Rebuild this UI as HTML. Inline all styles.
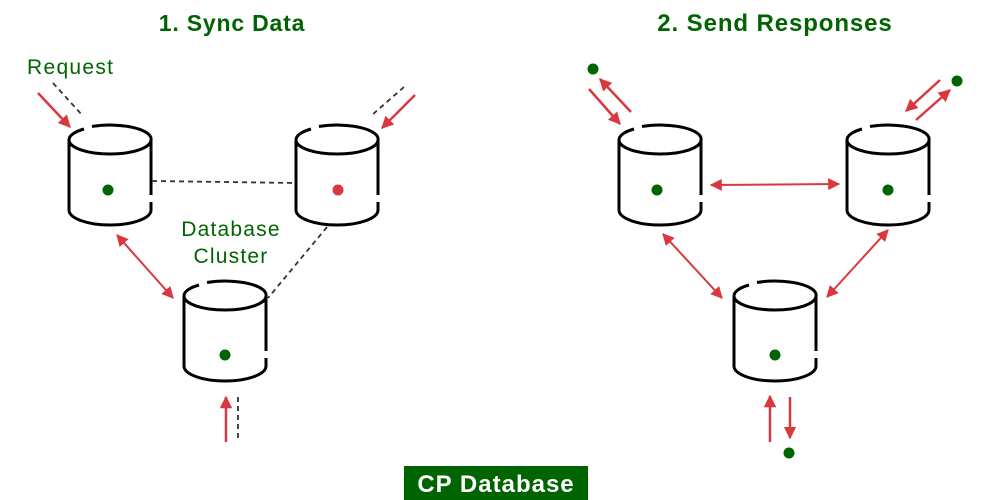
<!DOCTYPE html>
<html><head><meta charset="utf-8"><style>
html,body{margin:0;padding:0;background:#fff;width:1000px;height:500px;overflow:hidden}
svg{display:block}
text{font-family:"Liberation Sans",sans-serif}
</style></head><body>
<svg width="1000" height="500" viewBox="0 0 1000 500" xmlns="http://www.w3.org/2000/svg">
<defs>
<marker id="ah" viewBox="0 0 10 10" refX="9" refY="5" markerWidth="5" markerHeight="5" orient="auto-start-reverse">
<path d="M0,0 L10,5 L0,10 z" fill="#d9393e"/></marker>
<marker id="ah2" viewBox="0 0 10 10" refX="9" refY="5" markerWidth="6" markerHeight="6" orient="auto-start-reverse">
<path d="M0,0 L10,5 L0,10 z" fill="#d9393e"/></marker>
<g id="cyl" fill="none" stroke="#000" stroke-width="3">
<path d="M-41,0 A41,14 0 0 0 41,0 A41,14 0 0 0 -18,-13.5"/>
<path d="M-41,0 A41,14 0 0 1 -26,-11"/>
<path d="M-41,0 V70 A41,15 0 0 0 41,70 V62"/>
<path d="M41,0 V55"/>
</g>
</defs>
<text x="232" y="31" text-anchor="middle" font-size="23" font-weight="bold" fill="#006400" letter-spacing="0.8">1. Sync Data</text>
<text x="775" y="31" text-anchor="middle" font-size="24" font-weight="bold" fill="#006400" letter-spacing="0.9">2. Send Responses</text>
<text x="27" y="74" font-size="21" fill="#006400" letter-spacing="1.3">Request</text>
<text x="231" y="236" text-anchor="middle" font-size="21" fill="#006400" letter-spacing="1.2">Database</text>
<text x="231" y="263" text-anchor="middle" font-size="21" fill="#006400" letter-spacing="1.2">Cluster</text>

<use href="#cyl" x="110" y="140"/>
<use href="#cyl" x="337" y="140"/>
<use href="#cyl" x="225" y="296"/>
<use href="#cyl" x="660" y="140"/>
<use href="#cyl" x="888" y="140"/>
<use href="#cyl" x="775" y="296"/>

<g fill="#006400">
<circle cx="108" cy="190" r="5.5"/><circle cx="225" cy="355" r="5.5"/>
<circle cx="657" cy="190" r="5.5"/><circle cx="888" cy="190" r="5.5"/><circle cx="775" cy="355" r="5.5"/>
<circle cx="593" cy="69" r="5.5"/><circle cx="957" cy="81" r="5.5"/><circle cx="789" cy="453" r="5.5"/>
</g>
<circle cx="338" cy="190" r="5.5" fill="#d9393e"/>

<g stroke="#333" stroke-width="1.8" stroke-dasharray="5,4" fill="none">
<line x1="53" y1="83" x2="83" y2="116"/>
<line x1="404" y1="87" x2="372" y2="115"/>
<line x1="152" y1="181" x2="296" y2="183"/>
<line x1="327" y1="227" x2="268" y2="298"/>
<line x1="238" y1="397" x2="238" y2="442"/>
</g>
<g stroke="#d9393e" stroke-width="2.5" fill="none" marker-end="url(#ah)">
<line x1="38" y1="93" x2="70" y2="127"/>
<line x1="415" y1="95" x2="382" y2="128"/>
<line x1="226" y1="442" x2="226" y2="397"/>
<line x1="589" y1="89" x2="620" y2="124"/>
<line x1="631" y1="112" x2="600" y2="79"/>
<line x1="940" y1="80" x2="906" y2="111"/>
<line x1="916" y1="120" x2="950" y2="90"/>
<line x1="770" y1="442" x2="770" y2="396"/>
<line x1="790" y1="397" x2="790" y2="438"/>
</g>
<g stroke="#d9393e" stroke-width="2" fill="none" marker-end="url(#ah2)" marker-start="url(#ah2)">
<line x1="117" y1="235" x2="173" y2="298"/>
<line x1="711" y1="185" x2="839" y2="184"/>
<line x1="663" y1="234" x2="722" y2="298"/>
<line x1="888" y1="230" x2="827" y2="297"/>
</g>

<rect x="404" y="466" width="184" height="34" fill="#006400"/>
<text x="496" y="492" text-anchor="middle" font-size="24" font-weight="bold" fill="#fff" letter-spacing="1">CP Database</text>
</svg>
</body></html>
